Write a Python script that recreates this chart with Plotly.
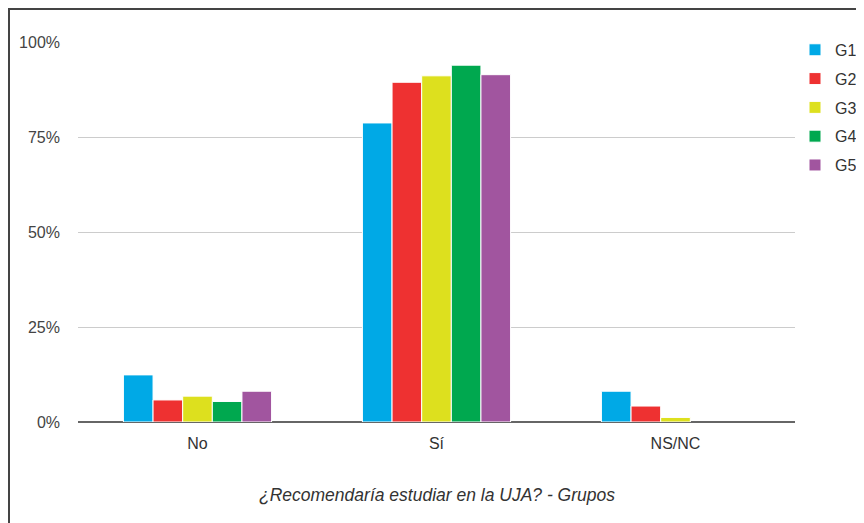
import plotly.graph_objects as go

categories = ["No", "Sí", "NS/NC"]
groups = ["G1", "G2", "G3", "G4", "G5"]
g1 = [12.4, 78.7, 8.1]
g2 = [5.8, 89.4, 4.2]
g3 = [6.8, 91.1, 1.2]
g4 = [5.4, 93.9, 0.0]
g5 = [8.1, 91.4, 0.0]
series = [g1, g2, g3, g4, g5]
colors = ["#00A9E6", "#EE3131", "#DDE01E", "#00A84F", "#A1559F"]
y_ticks = [0, 25, 50, 75, 100]
y_tick_labels = ["0%", "25%", "50%", "75%", "100%"]
title_text = "¿Recomendaría estudiar en la UJA? - Grupos"

FONT = "Liberation Sans, Arial, sans-serif"

fig = go.Figure()
for name, vals, col in zip(groups, series, colors):
    fig.add_trace(go.Bar(
        x=categories, y=vals, name=name, legendgroup=name,
        marker=dict(color=col,
                    line=dict(color="white",
                              width=[1 if v > 0 else 0 for v in vals])),
    ))

# page body has an 8px margin, so the figure is sized to fit the window
W, H = 856, 515
L, R, T, B = 70, 69, 34, 101
pw, ph = W - L - R, H - T - B

fig.update_layout(
    width=W, height=H,
    margin=dict(l=L, r=R, t=T, b=B, autoexpand=False),
    paper_bgcolor="white", plot_bgcolor="white",
    font=dict(family=FONT, size=16, color="#333"),
    barmode="group", bargap=0.38, bargroupgap=0,
    showlegend=True,
    legend=dict(x=1.0, xanchor="left", y=1.024, yanchor="top",
                traceorder="grouped", tracegroupgap=5,
                font=dict(size=16, color="#333"), bgcolor="rgba(0,0,0,0)"),
    xaxis=dict(showgrid=False, showline=False, ticks="", ticklabelstandoff=10,
               tickfont=dict(size=16, color="#333")),
    yaxis=dict(range=[0, 100], tickvals=y_ticks, ticktext=y_tick_labels,
               showgrid=True, gridcolor="#cccccc", gridwidth=1,
               zeroline=True, zerolinecolor="#666666", zerolinewidth=2,
               showline=False, ticks="", ticklabelstandoff=17,
               tickfont=dict(size=16, color="#444")),
    annotations=[dict(text="<i>" + title_text + "</i>", xref="paper", yref="paper",
                      x=0.5, y=-0.192, xanchor="center", yanchor="middle",
                      showarrow=False,
                      font=dict(family=FONT, size=17.5, color="#333"),
                      )],
    shapes=[dict(type="rect", xref="paper", yref="paper",
                 x0=(1 - L) / pw, x1=1.5, y0=-0.6, y1=1 + (T - 1) / ph,
                 line=dict(color="#444", width=2), fillcolor="rgba(0,0,0,0)",
                 layer="below")],
)

fig.write_html("out.html")
